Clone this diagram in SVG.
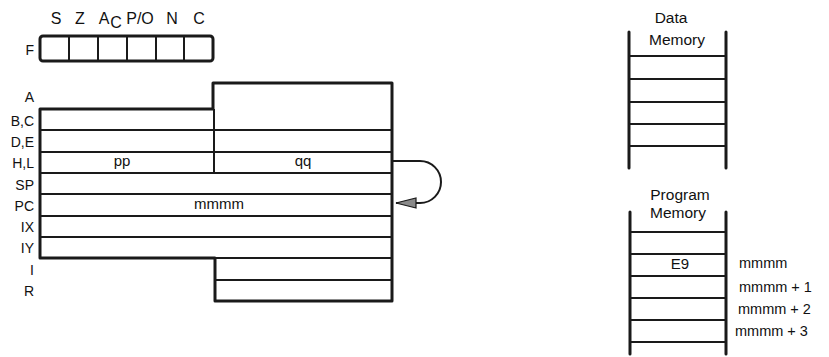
<svg xmlns="http://www.w3.org/2000/svg" width="829" height="357" viewBox="0 0 829 357">
<defs>
<style>
text{font-family:"Liberation Sans",Arial,sans-serif;fill:#111;}
.lbl{font-size:14px;text-anchor:end;}
.flag{font-size:16px;text-anchor:middle;}
.val{font-size:15px;text-anchor:middle;}
.mem{font-size:15.5px;text-anchor:middle;}
.addr{font-size:14.5px;}
.outline{fill:none;stroke:#1a1a1a;stroke-width:3;stroke-linejoin:round;}
.line{fill:none;stroke:#1a1a1a;stroke-width:2;}
.rail{fill:none;stroke:#1a1a1a;stroke-width:3;stroke-linecap:round;}
</style>
<marker id="ah" viewBox="0 0 22 12" refX="21" refY="6" markerWidth="22" markerHeight="12" markerUnits="userSpaceOnUse" orient="auto">
<path d="M1,1 L21,6 L1,11 z" fill="#8a8a8a" stroke="#1a1a1a" stroke-width="1.2"/>
</marker>
</defs>
<rect width="829" height="357" fill="#fff"/>

<g id="flags">
<text class="flag" x="56" y="24">S</text>
<text class="flag" x="80" y="24">Z</text>
<text class="flag" x="104" y="24">A</text>
<text class="flag" x="116" y="28">C</text>
<text class="flag" x="140" y="24">P/O</text>
<text class="flag" x="172" y="24">N</text>
<text class="flag" x="199" y="24">C</text>
<text class="lbl" x="34" y="55">F</text>
<rect class="outline" x="40" y="36" width="173" height="25" rx="3"/>
<path class="line" d="M69,36V61M98,36V61M127,36V61M156,36V61M184,36V61"/>
</g>

<g id="registers">
<path class="outline" d="M40,109 H213 V83 H392 V301 H215 V258 H40 Z"/>
<path class="line" d="M40,130 H392 M40,152 H392 M40,173 H392 M40,194 H392 M40,216 H392 M40,237 H392 M215,258 H392 M215,280 H392 M214,109 V173"/>
<text class="lbl" x="34" y="102">A</text>
<text class="lbl" x="34" y="126">B,C</text>
<text class="lbl" x="34" y="147">D,E</text>
<text class="lbl" x="34" y="168">H,L</text>
<text class="lbl" x="34" y="190">SP</text>
<text class="lbl" x="34" y="211">PC</text>
<text class="lbl" x="34" y="232">IX</text>
<text class="lbl" x="34" y="253">IY</text>
<text class="lbl" x="34" y="275">I</text>
<text class="lbl" x="34" y="296">R</text>
<text class="val" x="122" y="166">pp</text>
<text class="val" x="303" y="166">qq</text>
<text class="val" x="219" y="209">mmmm</text>
</g>

<g id="connectors">
<path class="line" d="M392,161 H420 A21,21 0 0 1 420,203 H396" marker-end="url(#ah)"/>
</g>

<g id="data-memory">
<text class="mem" x="671" y="23">Data</text>
<text class="mem" x="677" y="45">Memory</text>
<path class="rail" d="M629,32 V168 M726,32 V168"/>
<path class="line" d="M629,56 H726 M629,79 H726 M629,102 H726 M629,124 H726 M629,146 H726"/>
</g>

<g id="program-memory">
<text class="mem" x="680" y="200">Program</text>
<text class="mem" x="678" y="218">Memory</text>
<path class="rail" d="M630,212 V354 M726,212 V354"/>
<path class="line" d="M630,232 H726 M630,254 H726 M630,276 H726 M630,298 H726 M630,320 H726 M630,342 H726"/>
<text class="val" x="680" y="269">E9</text>
<text class="addr" x="739" y="268">mmmm</text>
<text class="addr" x="739" y="292">mmmm + 1</text>
<text class="addr" x="738" y="314">mmmm + 2</text>
<text class="addr" x="735" y="336">mmmm + 3</text>
</g>
</svg>
